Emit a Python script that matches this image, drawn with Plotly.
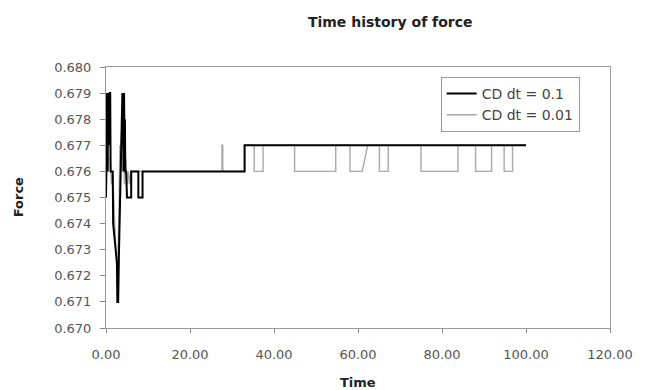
import plotly.graph_objects as go

# ---- data ----
t_coarse = [0, 0.1, 0.2, 0.3, 0.4, 0.5, 0.6, 0.7, 0.8, 0.9, 1.0, 1.1, 1.6, 1.7, 2.6, 2.7, 2.9,
            3.1, 3.9, 4.0, 4.1, 4.2, 4.3, 4.4, 4.5, 4.6, 4.8, 5.0, 6.0, 6.0, 7.7, 7.7,
            8.7, 8.7, 33.0, 33.0, 100.0]
f_coarse = [0.675, 0.679, 0.676, 0.679, 0.676, 0.679, 0.677, 0.679, 0.677, 0.679, 0.679, 0.676, 0.676,
            0.674, 0.6725, 0.671, 0.671, 0.673, 0.679, 0.677, 0.679, 0.676, 0.679, 0.677, 0.678,
            0.676, 0.676, 0.675, 0.675, 0.676, 0.676, 0.675, 0.675, 0.676, 0.676, 0.677, 0.677]

t_fine = [0, 0.5, 1.0, 1.3, 1.6, 1.9, 2.2, 2.5, 2.8, 3.1, 3.3, 3.5, 3.7, 3.9, 4.1, 4.4, 4.7, 5.0,
          5.3, 5.6, 5.9, 6.2, 27.6, 27.6, 27.8, 27.8, 33.0, 33.0, 35.3, 35.3, 37.4, 37.4,
          44.9, 44.9, 54.7, 54.7, 58.1, 58.1, 61.0, 62.3, 65.1, 65.1, 67.2, 67.2, 75.0, 75.0, 83.8,
          83.8, 88.0, 88.0, 91.8, 91.8, 94.8, 94.8, 96.8, 96.8, 100.0]
f_fine = [0.675, 0.6765, 0.6765, 0.6755, 0.676, 0.6745, 0.6735, 0.6725, 0.6725, 0.6745, 0.677,
          0.6765, 0.6775, 0.676, 0.6775, 0.6755, 0.6765, 0.6755, 0.676, 0.6755, 0.676, 0.676,
          0.676, 0.677, 0.677, 0.676, 0.676, 0.677, 0.677, 0.676, 0.676, 0.677, 0.677, 0.676, 0.676,
          0.677, 0.677, 0.676, 0.676, 0.677, 0.677, 0.676, 0.676, 0.677, 0.677, 0.676, 0.676, 0.677,
          0.677, 0.676, 0.676, 0.677, 0.677, 0.676, 0.676, 0.677, 0.677]

x_ticks = [0, 20, 40, 60, 80, 100, 120]
y_ticks = [0.670, 0.671, 0.672, 0.673, 0.674, 0.675, 0.676, 0.677, 0.678, 0.679, 0.680]

FONT = "DejaVu Sans"

fig = go.Figure()
fig.add_trace(go.Scatter(x=t_fine, y=f_fine, mode="lines", name="CD dt = 0.01",
                         line=dict(color="#a9a9a9", width=1.4), legendrank=2))
fig.add_trace(go.Scatter(x=t_coarse, y=f_coarse, mode="lines", name="CD dt = 0.1",
                         line=dict(color="#000000", width=2), legendrank=1))

fig.update_layout(
    width=645, height=390,
    margin=dict(l=106, r=31, t=67, b=62),
    paper_bgcolor="white", plot_bgcolor="white",
    font=dict(family=FONT, size=13, color="#555555"),
    title=dict(text="<b>Time history of force</b>", x=0.605, xref="container", xanchor="center",
               y=0.944, yanchor="middle", font=dict(family=FONT, size=14, color="#222222")),
    legend=dict(x=0.664, y=0.962, xanchor="left", yanchor="top", bgcolor="white",
                bordercolor="#9a9a9a", borderwidth=1, font=dict(family=FONT, size=14, color="#444444"),
                tracegroupgap=0, itemwidth=30),
    showlegend=True,
)

fig.update_xaxes(range=[0, 120], tickvals=x_ticks, tickformat=".2f", showgrid=False, zeroline=False,
                 showline=True, linecolor="#9a9a9a", linewidth=1, mirror=True,
                 ticks="outside", ticklen=4, tickcolor="#888888", ticklabelstandoff=10)
fig.update_yaxes(range=[0.670, 0.680], tickvals=y_ticks, tickformat=".3f", showgrid=False, zeroline=False,
                 showline=True, linecolor="#9a9a9a", linewidth=1, mirror=True,
                 ticks="outside", ticklen=5, tickcolor="#888888", ticklabelstandoff=6)

fig.add_annotation(text="<b>Force</b>", xref="paper", yref="paper", x=-0.173, y=0.5, textangle=-90,
                   showarrow=False, font=dict(family=FONT, size=13, color="#222222"),
                   xanchor="center", yanchor="middle")
fig.add_annotation(text="<b>Time</b>", xref="paper", yref="paper", x=0.5, y=-0.207,
                   showarrow=False, font=dict(family=FONT, size=13, color="#222222"),
                   xanchor="center", yanchor="middle")

fig.write_html("out.html")
